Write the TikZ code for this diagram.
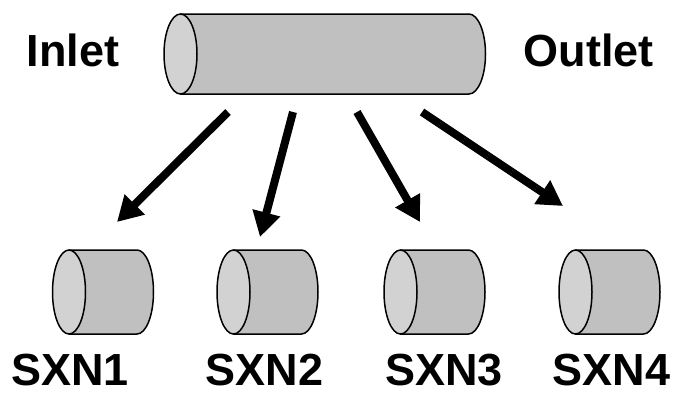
\documentclass[tikz,border=0pt]{standalone}
\usepackage{fontspec}
\setmainfont{Liberation Sans}
\usetikzlibrary{arrows.meta}
\definecolor{bodygray}{RGB}{192,192,192}
\definecolor{facegray}{RGB}{210,210,210}
\tikzset{
  label/.style={font=\bfseries\fontsize{45}{45}\selectfont, anchor=base, inner sep=0pt},
  flow/.style={line width=8pt, -{Triangle[width=27pt,length=25pt]}},
  outline/.style={draw=black, line width=1.5pt, line join=round}
}
% cylinder lying on its side: #1 left face centre x, #2 centre y, #3 length, #4 rx, #5 ry
\newcommand{\lyingcyl}[5]{%
  \path[outline, fill=bodygray]
    (#1,#2-#5) -- (#1+#3,#2-#5)
    arc[start angle=-90, end angle=90, x radius=#4, y radius=#5]
    -- (#1,#2+#5) -- cycle;
  \path[outline, fill=facegray] (#1,#2) ellipse[x radius=#4, y radius=#5];
}
\begin{document}
\begin{tikzpicture}[x=1pt, y=-1pt]
\useasboundingbox (0,0) rectangle (677,392);

% main pipe
\lyingcyl{180.5}{54}{288.5}{16.5}{40}

% sections
\lyingcyl{69}{292}{68}{16.5}{42}
\lyingcyl{233.5}{292}{68}{16.5}{42}
\lyingcyl{400.5}{292}{68}{16.5}{42}
\lyingcyl{575.5}{292}{68}{16.5}{42}

% labels
\node[label] (inlet) at (73,66) {Inlet};
\node[label] (outlet) at (588.5,66) {Outlet};
\node[label] (s1) at (70,385) {SXN1};
\node[label] (s2) at (264.5,385) {SXN2};
\node[label] (s3) at (444,385) {SXN3};
\node[label] (s4) at (611.5,385) {SXN4};

% split arrows
\coordinate (a1) at (228,112); \coordinate (b1) at (117,222);
\coordinate (a2) at (293,112); \coordinate (b2) at (260,237);
\coordinate (a3) at (357,112); \coordinate (b3) at (420,222);
\coordinate (a4) at (422,112); \coordinate (b4) at (563,206);
\draw[flow] (a1) -- (b1);
\draw[flow] (a2) -- (b2);
\draw[flow] (a3) -- (b3);
\draw[flow] (a4) -- (b4);
\end{tikzpicture}
\end{document}
